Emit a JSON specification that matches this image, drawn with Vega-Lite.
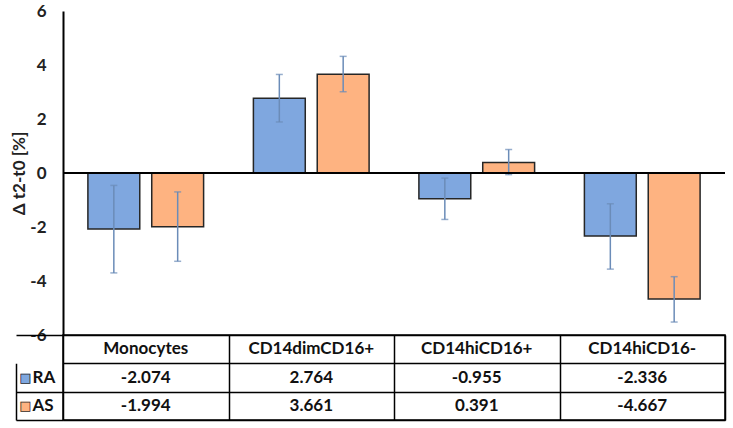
{
  "$schema": "https://vega.github.io/schema/vega-lite/v6.json",
  "padding": {"left": 10, "top": 2, "right": 5, "bottom": 5},
  "background": "white",
  "config": {
    "locale": {"number": {"decimal": ".", "thousands": ",", "grouping": [3], "currency": ["$", ""], "minus": "-"}},
    "font": "Lato"
  },
  "datasets": {
    "d": [
      {"category": "Monocytes", "series": "RA", "value": -2.074, "lo": -3.70, "hi": -0.46},
      {"category": "CD14dimCD16+", "series": "RA", "value": 2.764, "lo": 1.89, "hi": 3.65},
      {"category": "CD14hiCD16+", "series": "RA", "value": -0.955, "lo": -1.72, "hi": -0.19},
      {"category": "CD14hiCD16-", "series": "RA", "value": -2.336, "lo": -3.56, "hi": -1.14},
      {"category": "Monocytes", "series": "AS", "value": -1.994, "lo": -3.27, "hi": -0.70},
      {"category": "CD14dimCD16+", "series": "AS", "value": 3.661, "lo": 3.01, "hi": 4.32},
      {"category": "CD14hiCD16+", "series": "AS", "value": 0.391, "lo": -0.06, "hi": 0.87},
      {"category": "CD14hiCD16-", "series": "AS", "value": -4.667, "lo": -5.52, "hi": -3.84}
    ]
  },
  "spacing": 0,
  "bounds": "flush",
  "vconcat": [
    {
      "width": 662,
      "height": 324,
      "view": {"stroke": null},
      "data": {"name": "d"},
      "layer": [
        {
          "mark": {"type": "bar", "stroke": "#262626", "strokeWidth": 1.5},
          "encoding": {
            "x": {"field": "category", "type": "nominal", "scale": {"domain": ["Monocytes", "CD14dimCD16+", "CD14hiCD16+", "CD14hiCD16-"], "paddingInner": 0, "paddingOuter": 0}, "axis": null},
            "xOffset": {"field": "series", "type": "nominal", "scale": {"domain": ["RA", "AS"], "paddingInner": 0.1875, "paddingOuter": 0.39}},
            "y": {"field": "value", "type": "quantitative", "scale": {"domain": [-6, 6], "nice": false},
              "axis": {"values": [-6, -4, -2, 0, 2, 4, 6], "title": "Δ t2-t0 [%]", "titleFontSize": 17, "titleFontWeight": "bold", "titleColor": "#222", "titlePadding": 1,
                "labelFontSize": 17, "labelFontWeight": "bold", "labelColor": "#222", "labelPadding": 17, "ticks": false, "grid": false, "domainColor": "black", "domainWidth": 2}},
            "color": {"field": "series", "type": "nominal", "scale": {"domain": ["RA", "AS"], "range": ["#7FA7DF", "#FEB381"]}, "legend": null}
          }
        },
        {
          "mark": {"type": "rule", "color": "#6B8CB8", "strokeWidth": 1.5},
          "encoding": {
            "x": {"field": "category", "type": "nominal"},
            "xOffset": {"field": "series", "type": "nominal"},
            "y": {"field": "lo", "type": "quantitative"},
            "y2": {"field": "hi"}
          }
        },
        {
          "mark": {"type": "tick", "color": "#6B8CB8", "thickness": 1.5, "size": 7, "orient": "horizontal"},
          "encoding": {
            "x": {"field": "category", "type": "nominal"},
            "xOffset": {"field": "series", "type": "nominal"},
            "y": {"field": "lo", "type": "quantitative"}
          }
        },
        {
          "mark": {"type": "tick", "color": "#6B8CB8", "thickness": 1.5, "size": 7, "orient": "horizontal"},
          "encoding": {
            "x": {"field": "category", "type": "nominal"},
            "xOffset": {"field": "series", "type": "nominal"},
            "y": {"field": "hi", "type": "quantitative"}
          }
        },
        {
          "mark": {"type": "rule", "color": "black", "strokeWidth": 2},
          "encoding": {"y": {"datum": 0}}
        }
      ]
    },
    {
      "width": 662,
      "height": 85,
      "view": {"stroke": "black", "strokeWidth": 1.5},
      "data": {"name": "d"},
      "layer": [
        {
          "mark": {"type": "text", "fontSize": 17, "fontWeight": "bold", "color": "#111"},
          "encoding": {
            "x": {"field": "category", "type": "nominal", "scale": {"domain": ["Monocytes", "CD14dimCD16+", "CD14hiCD16+", "CD14hiCD16-"], "paddingInner": 0, "paddingOuter": 0},
              "axis": {"title": null, "labels": false, "ticks": false, "domain": false, "grid": true, "gridColor": "black", "gridWidth": 1.5, "tickBand": "extent"}},
            "y": {"field": "series", "type": "nominal", "scale": {"domain": ["header", "RA", "AS"], "paddingInner": 0, "paddingOuter": 0},
              "axis": {"orient": "left", "title": null, "labelExpr": "datum.value === 'header' ? '' : datum.value", "labelAlign": "left", "labelPadding": -16,
                "labelFontSize": 17, "labelFontWeight": "bold", "labelColor": "#111", "ticks": true, "tickSize": 47, "tickBand": "extent", "tickWidth": 1.5,
                "tickColor": {"condition": {"test": "datum.value === 'header'", "value": "transparent"}, "value": "black"},
                "grid": true, "gridColor": "black", "gridWidth": 1.5, "domain": false}},
            "text": {"field": "value", "type": "quantitative", "format": ".3f"}
          }
        },
        {
          "transform": [{"filter": "datum.series === 'RA'"}],
          "mark": {"type": "text", "fontSize": 17, "fontWeight": "bold", "color": "#111"},
          "encoding": {
            "x": {"field": "category", "type": "nominal",
              "axis": {"title": null, "labels": false, "ticks": false, "domain": false, "grid": true, "gridColor": "black", "gridWidth": 1.5, "tickBand": "extent"}},
            "y": {"datum": "header", "type": "nominal",
              "axis": {"orient": "left", "title": null, "offset": 47, "labelExpr": "datum.value === 'header' ? '' : '■'", "labelFont": "DejaVu Sans", "labelFontSize": 13,
                "labelAlign": "center", "labelPadding": -9,
                "labelColor": {"condition": {"test": "datum.value === 'RA'", "value": "#7FA7DF"}, "value": "#FEB381"},
                "ticks": false, "grid": false, "domain": true, "domainColor": "black", "domainWidth": 1.5, "domainDash": [0, 28.33, 60]}},
            "text": {"field": "category", "type": "nominal"}
          }
        },
        {
          "mark": {"type": "text", "opacity": 0},
          "encoding": {
            "y": {"field": "series", "type": "nominal",
              "axis": {"orient": "left", "title": null, "offset": 47, "labelExpr": "datum.value === 'header' ? '' : '□'", "labelFont": "DejaVu Sans", "labelFontSize": 13,
                "labelAlign": "center", "labelPadding": -9, "labelColor": "#333",
                "ticks": false, "grid": false, "domain": false}}
          }
        }
      ],
      "resolve": {"axis": {"y": "independent"}}
    }
  ]
}
